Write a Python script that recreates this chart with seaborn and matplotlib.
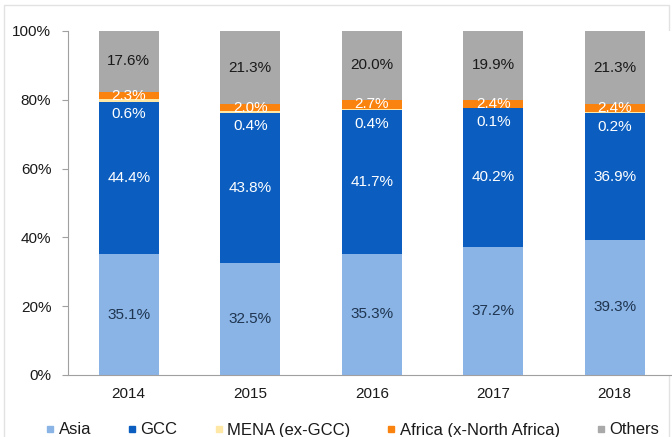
import seaborn as sns
import matplotlib.pyplot as plt
import numpy as np
import pandas as pd
from matplotlib.lines import Line2D
from matplotlib.patches import Rectangle

years = ["2014", "2015", "2016", "2017", "2018"]
asia = [35.1, 32.5, 35.3, 37.2, 39.3]
gcc = [44.4, 43.8, 41.7, 40.2, 36.9]
mena = [0.6, 0.4, 0.4, 0.1, 0.2]
africa = [2.3, 2.0, 2.7, 2.4, 2.4]
others = [17.6, 21.3, 20.0, 19.9, 21.3]

names = ["Asia", "GCC", "MENA (ex-GCC)", "Africa (x-North Africa)", "Others"]
colors = ["#8AB4E6", "#0B5EBF", "#FFE7A6", "#FA820F", "#A9A9A9"]
label_colors = ["#1F3550", "white", "white", "white", "#1A1A1A"]

sns.set_style("white")
plt.rcParams['font.family'] = ['Liberation Sans', 'DejaVu Sans']

series = np.array([asia, gcc, mena, africa, others])
shares = series / series.sum(axis=0) * 100
tops = np.cumsum(shares, axis=0)

fig = plt.figure(figsize=(6.72, 4.37), dpi=100)
ax = fig.add_axes([68 / 672, 62 / 437, 604 / 672, 344 / 437])

# draw stacked bars by overlaying cumulative heights, top layer first
for i in reversed(range(len(names))):
    df = pd.DataFrame({"year": years, "value": tops[i]})
    sns.barplot(data=df, x="year", y="value", color=colors[i], saturation=1,
                width=0.49, linewidth=0, ax=ax)

# labels
x = np.arange(len(years))
for i in range(len(names)):
    mids = tops[i] - shares[i] / 2
    for j in range(len(years)):
        off = -10 if i == 2 else 0
        ax.annotate(f"{series[i, j]:.1f}%", (x[j], mids[j]), xytext=(0, off),
                    textcoords="offset points", ha="center", va="center",
                    fontsize=11, color=label_colors[i])

ax.set_xlim(-0.5, 604 / 121.5 - 0.5)
ax.set_ylim(0, 100)
ax.set_yticks(range(0, 101, 20))
ax.set_yticklabels([f"{v}%" for v in range(0, 101, 20)])
ax.set(xlabel="", ylabel="")
ax.tick_params(axis="y", left=True, length=4, width=0.8, color="#A0A0A0",
               pad=8, labelsize=11, labelcolor="#1A1A1A")
ax.tick_params(axis="x", bottom=False, length=0, pad=9, labelsize=11,
               labelcolor="#1A1A1A")
for s in ["top", "right"]:
    ax.spines[s].set_visible(False)
for s in ["left", "bottom"]:
    ax.spines[s].set_color("#A0A0A0")
    ax.spines[s].set_linewidth(0.8)

handles = [Line2D([], [], marker="s", ls="", markersize=5, color=c) for c in colors]
fig.legend(handles, names, loc="center left", bbox_to_anchor=(46 / 672, 1 - 430 / 437),
           ncol=5, frameon=False, fontsize=12, handlelength=0.5, handletextpad=0.25,
           columnspacing=2.22, borderpad=0, borderaxespad=0, labelcolor="#1A1A1A")

fig.patches.append(Rectangle((4 / 672, -0.1), 665 / 672, 1.1 - 5 / 437,
                             transform=fig.transFigure, fill=False,
                             edgecolor="#E2E2E2", linewidth=1, zorder=-1))

plt.savefig("out.png", dpi=100)
